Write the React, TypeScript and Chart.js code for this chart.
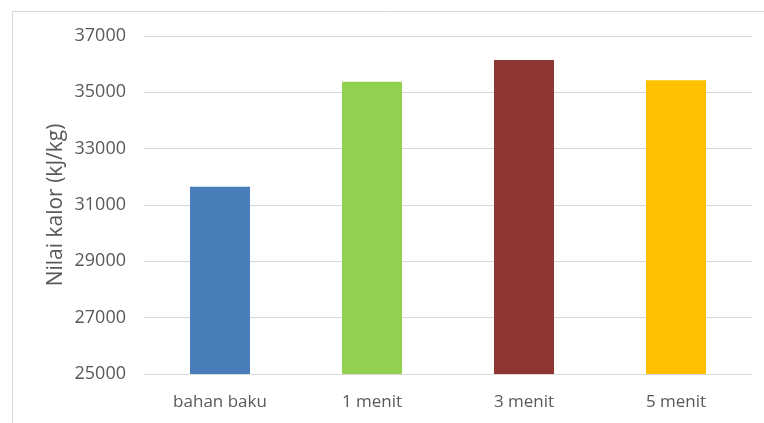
import React, { useEffect, useRef } from "react";
import { Chart, registerables } from "chart.js";

Chart.register(...registerables);

const categories = ["bahan baku", "1 menit", "3 menit", "5 menit"];
const nilaiKalor = [31650, 35380, 36150, 35430];
const barColors = ["#4a7ebb", "#92d050", "#8e3631", "#ffc000"];
const yTicks = [25000, 27000, 29000, 31000, 33000, 35000, 37000];

const FONT = "'Open Sans', sans-serif";
const TEXT = "#595959";
const GRID = "#d9d9d9";

// Thin frame along the top and left edges of the chart box
const framePlugin = {
  id: "frame",
  beforeDraw(chart: Chart) {
    const { ctx, width, height } = chart;
    ctx.save();
    ctx.strokeStyle = GRID;
    ctx.lineWidth = 1;
    ctx.beginPath();
    ctx.moveTo(12.5, height);
    ctx.lineTo(12.5, 11.5);
    ctx.lineTo(width, 11.5);
    ctx.stroke();
    ctx.restore();
  },
};

export default function App() {
  const canvasRef = useRef<HTMLCanvasElement | null>(null);

  useEffect(() => {
    if (!canvasRef.current) return;
    const chart = new Chart(canvasRef.current, {
      type: "bar",
      data: {
        labels: categories,
        datasets: [
          {
            data: nilaiKalor,
            backgroundColor: barColors,
            borderWidth: 0,
            categoryPercentage: 1,
            barPercentage: 0.395,
          },
        ],
      },
      plugins: [framePlugin],
      options: {
        animation: false,
        responsive: false,
        maintainAspectRatio: false,
        layout: { padding: { left: 0, right: 12, top: 36, bottom: 0 } },
        plugins: {
          legend: { display: false },
          tooltip: { enabled: false },
        },
        scales: {
          x: {
            grid: { display: false },
            border: { display: false },
            ticks: {
              color: TEXT,
              font: { family: FONT, size: 17 },
              padding: 10,
              maxRotation: 0,
            },
            afterFit(scale: any) {
              scale.height = 49;
            },
          },
          y: {
            min: yTicks[0],
            max: yTicks[yTicks.length - 1],
            afterBuildTicks(scale: any) {
              scale.ticks = yTicks.map((v) => ({ value: v }));
            },
            grid: { color: GRID, lineWidth: 1, drawTicks: false },
            border: { display: false },
            ticks: {
              color: TEXT,
              font: { family: FONT, size: 18 },
              padding: 18,
              callback: (v: any) => String(v),
            },
            title: {
              display: true,
              text: "Nilai kalor (kJ/kg)",
              color: TEXT,
              font: { family: FONT, size: 21 },
              padding: { top: 43, bottom: 0 },
            },
            afterFit(scale: any) {
              scale.width = 144;
            },
          },
        },
      },
    });
    return () => chart.destroy();
  }, []);

  return (
    <div
      style={{
        position: "fixed",
        left: 0,
        top: 0,
        width: 764,
        height: 423,
        background: "#ffffff",
      }}
    >
      <canvas ref={canvasRef} width={764} height={423} />
    </div>
  );
}
